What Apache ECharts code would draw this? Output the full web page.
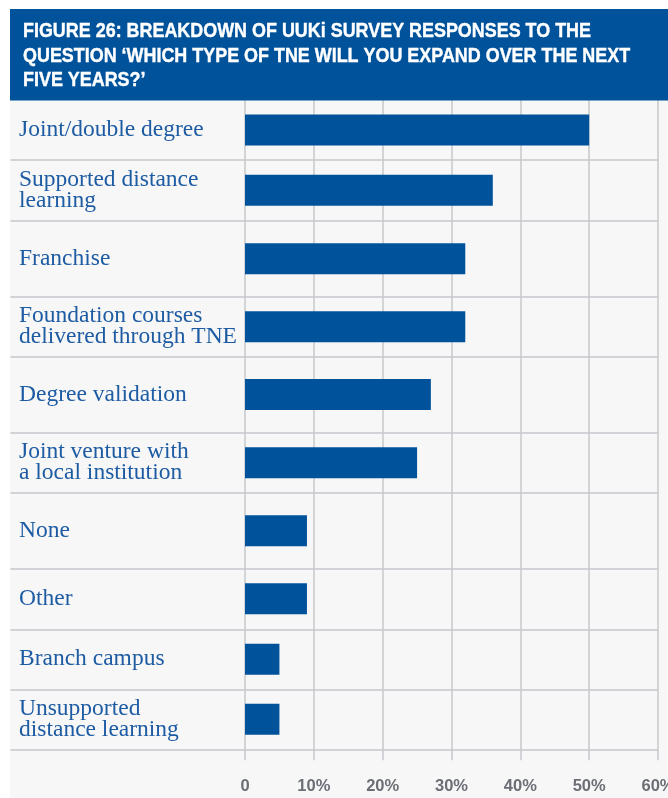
<!DOCTYPE html>
<html>
<head>
<meta charset="utf-8">
<script src="https://cdn.jsdelivr.net/npm/echarts@6/dist/echarts.min.js"></script>
<style>
html,body{margin:0;padding:0;background:#ffffff;}
#chart{width:668px;height:798px;}
</style>
</head>
<body>
<div id="chart"></div>
<script>
// ---- data ----
const categories = [
  'Joint/double degree',
  'Supported distance\nlearning',
  'Franchise',
  'Foundation courses\ndelivered through TNE',
  'Degree validation',
  'Joint venture with\na local institution',
  'None',
  'Other',
  'Branch campus',
  'Unsupported\ndistance learning'
];
const values = [50, 36, 32, 32, 27, 25, 9, 9, 5, 5];
const tickLabels = ['0', '10%', '20%', '30%', '40%', '50%', '60%'];
const titleLines = [
  'FIGURE 26: BREAKDOWN OF UUKi SURVEY RESPONSES TO THE',
  'QUESTION \u2018WHICH TYPE OF TNE WILL YOU EXPAND OVER THE NEXT',
  'FIVE YEARS?\u2019'
];

// ---- layout (row boundaries in px, as in the original figure) ----
const rowEdges = [100, 160, 220.7, 296.7, 356.7, 432.3, 493, 568.3, 629.3, 689.3, 749.3];
const H = 798, W = 668;
const plotLeft = 245, plotRight = 10, sepLeft = 11;
const blue = '#00529b';
const gridColor = '#c6c8cb';
const labelColor = '#1d5ba3';
const titleFont = 'bold 20px "Liberation Sans"';

// horizontal condensing of the title so its first line spans the original width
const mctx = document.createElement('canvas').getContext('2d');
mctx.font = titleFont;
const titleScale = 568 / mctx.measureText(titleLines[0]).width;

const grid = [], xAxis = [], yAxis = [], series = [];
const n = categories.length;
for (let i = 0; i < n; i++) {
  const top = rowEdges[i];
  const height = rowEdges[i + 1] - rowEdges[i];
  const last = i === n - 1;
  // bar grid
  grid.push({ left: plotLeft, right: plotRight, top: top, height: height, containLabel: false, outerBoundsMode: 'none' });
  const gi = grid.length - 1;
  xAxis.push({
    gridIndex: gi, type: 'value', min: 0, max: 60, interval: 10,
    axisLine: { show: false },
    axisTick: { show: last, length: 11, lineStyle: { color: gridColor, width: 1.5 } },
    splitLine: { show: true, lineStyle: { color: gridColor, width: 1.5 } },
    axisLabel: {
      show: last, margin: 29, color: '#6b6e74', fontSize: 16.5, fontWeight: 'bold',
      fontFamily: '"Liberation Sans", sans-serif',
      formatter: function (v) { return tickLabels[Math.round(v / 10)]; }
    }
  });
  yAxis.push({
    gridIndex: gi, type: 'category', data: [categories[i]],
    axisLine: { show: false }, axisTick: { show: false }, splitLine: { show: false },
    axisLabel: {
      align: 'left', margin: plotLeft - 19, color: labelColor, fontSize: 23.5, lineHeight: 21,
      fontFamily: '"Liberation Serif", "DejaVu Serif", serif'
    }
  });
  series.push({
    type: 'bar', xAxisIndex: gi, yAxisIndex: gi, data: [values[i]],
    barWidth: 31, itemStyle: { color: blue }, silent: true, animation: false
  });
  // separator grid (bottom border of the row, across labels and plot)
  grid.push({ left: sepLeft, right: plotRight, top: top, height: height, outerBoundsMode: 'none' });
  const si = grid.length - 1;
  xAxis.push({
    gridIndex: si, type: 'value', min: 0, max: 1, position: 'bottom',
    axisLine: { show: true, lineStyle: { color: gridColor, width: 1.5 } },
    axisTick: { show: false }, axisLabel: { show: false }, splitLine: { show: false }
  });
  yAxis.push({ gridIndex: si, type: 'value', show: false, min: 0, max: 1 });
}

const chart = echarts.init(document.getElementById('chart'), null, { renderer: 'canvas' });
chart.setOption({
  animation: false,
  backgroundColor: '#f7f7f7',
  grid: grid, xAxis: xAxis, yAxis: yAxis, series: series,
  graphic: {
    elements: [
      { type: 'rect', shape: { x: 0, y: 0, width: W, height: 9 }, style: { fill: '#ffffff' }, z: 100, silent: true },
      { type: 'rect', shape: { x: 0, y: 0, width: 10, height: H }, style: { fill: '#ffffff' }, z: 100, silent: true },
      { type: 'rect', shape: { x: 10, y: 9, width: W - 10, height: 91.5 }, style: { fill: blue }, z: 100, silent: true },
      {
        type: 'text', x: 23, y: 19, z: 101, silent: true, scaleX: titleScale, scaleY: 1,
        style: {
          text: titleLines.join('\n'), fill: '#ffffff', lineHeight: 24.7,
          font: titleFont, verticalAlign: 'top', align: 'left',
          stroke: '#ffffff', lineWidth: 0.4
        }
      }
    ]
  }
});
</script>
</body>
</html>
